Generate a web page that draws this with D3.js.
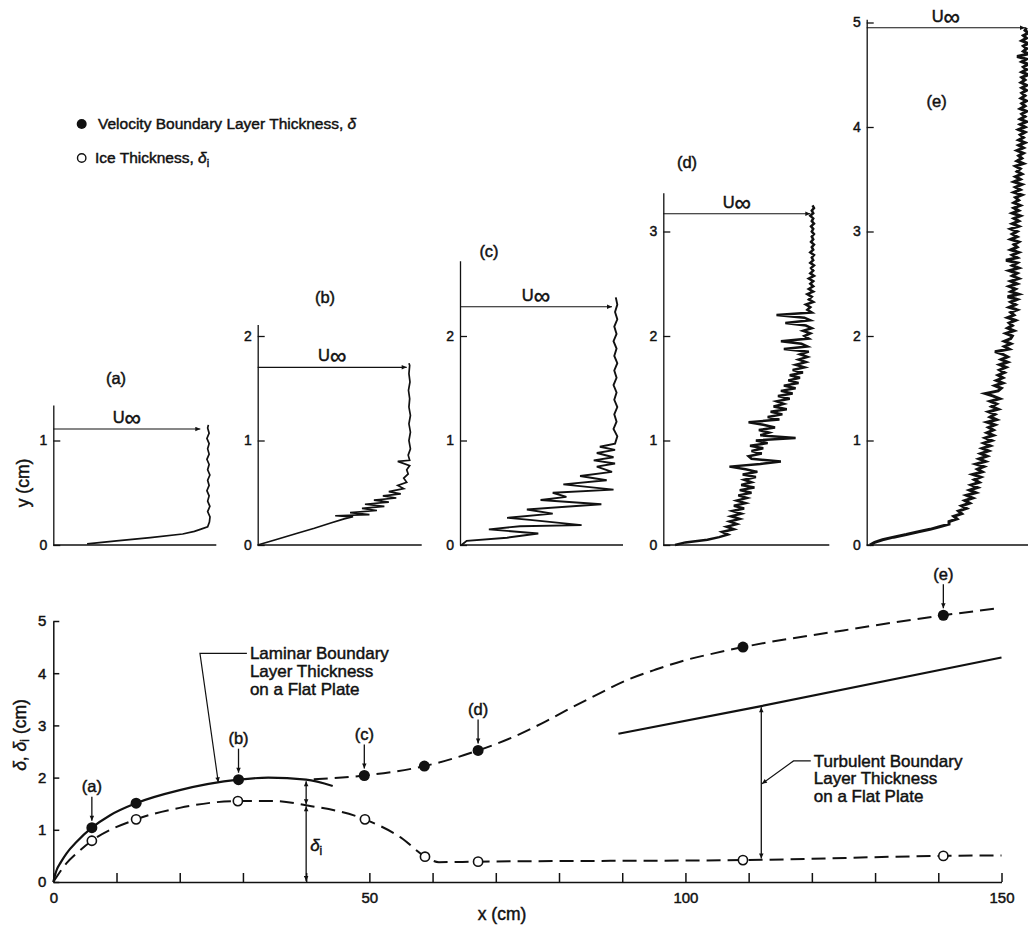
<!DOCTYPE html>
<html>
<head>
<meta charset="utf-8">
<script src="https://cdn.jsdelivr.net/npm/d3@7"></script>
<style>
  body { margin: 0; background: #fff; }
  svg { display: block; font-family: "Liberation Sans", Arial, Helvetica, sans-serif; }
  svg text { stroke: #111; stroke-width: 0.45px; }
</style>
</head>
<body>
<svg id="chart" width="1028" height="928"></svg>
<script>
// ---------- boundary-layer / ice thickness along the plate ----------
const deltaX = [6.1, 13.1, 29.3, 49.2, 58.7, 67.2, 109.1, 140.8];
const deltaY = [1.04, 1.51, 1.96, 2.04, 2.22, 2.52, 4.50, 5.11];
const iceX = [6.1, 13.1, 29.2, 49.3, 58.8, 67.2, 109.1, 140.8];
const iceY = [0.79, 1.20, 1.55, 1.20, 0.485, 0.39, 0.42, 0.50];
const stationLabels = ["(a)", "(b)", "(c)", "(d)", "(e)"];
const stationIndex = [0, 2, 3, 5, 7];

// faired curves
const deltaFairX = [41.2, 49.2, 58.7, 67.2, 72.8, 77.3, 82.3, 86.5, 90.8, 95.3, 100, 104.5, 109.1, 125, 140.8, 149.3];
const deltaFairY = [1.97, 2.04, 2.22, 2.52, 2.78, 3.04, 3.36, 3.62, 3.87, 4.07, 4.25, 4.38, 4.50, 4.82, 5.11, 5.24];
const iceFairX = [0, 2.1, 3.7, 6.1, 13.1, 20, 29.2, 35, 40, 49.3, 55, 58.8, 61, 67.2, 109.1, 140.8, 150];
const iceFairY = [0, 0.36, 0.55, 0.79, 1.20, 1.42, 1.55, 1.55, 1.47, 1.20, 0.85, 0.49, 0.38, 0.39, 0.42, 0.50, 0.51];
const laminarX = [0, 0.5, 1.2, 2.1, 3.7, 6.1, 9, 13.1, 20, 29.3, 34, 40, 44.2];
const laminarY = [0, 0.22, 0.38, 0.55, 0.77, 1.04, 1.28, 1.51, 1.76, 1.96, 2.0, 1.96, 1.84];
const turbX = [89.4, 112, 150];
const turbY = [2.84, 3.37, 4.30];

const xTicks = [0, 10, 20, 30, 40, 50, 60, 70, 80, 90, 100, 110, 120, 130, 140, 150];
const xTickLabels = [0, 50, 100, 150];
const yTicks = [0, 1, 2, 3, 4, 5];

// ---------- measured velocity profiles, [y (cm), u/U∞] ----------
const profA = [[0.01,0.23],[0.04,0.43],[0.07,0.66],[0.105,0.88],[0.13,0.96],[0.15,1.0],[0.175,1.05],[0.22,1.062],
  [0.27,1.066],[0.32,1.05],[0.37,1.065],[0.42,1.05],[0.47,1.06],[0.52,1.045],[0.57,1.06],[0.62,1.05],[0.67,1.065],
  [0.72,1.05],[0.77,1.06],[0.82,1.045],[0.87,1.06],[0.92,1.05],[0.97,1.06],[1.02,1.045],[1.07,1.06],[1.12,1.05],[1.15,1.055]];
const profB = [[0,0],[0.05,0.12],[0.11,0.26],[0.16,0.38],[0.21,0.49],[0.25,0.58],[0.27,0.64],[0.28,0.52],[0.29,0.75],
  [0.31,0.62],[0.33,0.80],[0.35,0.70],[0.37,0.85],[0.39,0.72],[0.41,0.88],[0.43,0.78],[0.45,0.93],[0.47,0.84],[0.49,0.96],
  [0.51,0.88],[0.54,0.98],[0.57,0.94],[0.60,1.0],[0.64,0.98],[0.68,1.01],[0.72,1.0],[0.76,1.02],[0.80,0.94],[0.81,1.02],
  [0.86,1.01],[0.92,1.025],[1.0,1.015],[1.08,1.025],[1.16,1.015],[1.24,1.025],[1.32,1.015],[1.40,1.02],[1.48,1.012],
  [1.56,1.022],[1.64,1.015],[1.72,1.02],[1.74,1.015]];
const profC = [[0,0.01],[0.04,0.044],[0.07,0.31],[0.11,0.515],[0.15,0.19],[0.18,0.395],[0.19,0.80],[0.24,0.46],
  [0.26,0.31],[0.30,0.61],[0.34,0.44],[0.39,0.93],[0.43,0.53],[0.46,0.70],[0.50,0.61],[0.53,1.01],[0.58,0.68],
  [0.62,0.965],[0.66,0.79],[0.70,1.0],[0.75,0.90],[0.78,1.02],[0.81,0.88],[0.84,1.01],[0.88,0.90],[0.91,1.02],
  [0.94,0.92],[0.97,1.02],[1.04,1.035],[1.11,1.01],[1.18,1.03],[1.25,1.015],[1.32,1.035],[1.39,1.015],[1.46,1.03],
  [1.53,1.01],[1.60,1.03],[1.67,1.015],[1.74,1.035],[1.81,1.015],[1.88,1.03],[1.95,1.01],[2.02,1.03],[2.09,1.015],
  [2.16,1.035],[2.23,1.02],[2.30,1.035],[2.37,1.025]];
// (d) and (e): u/U∞ sampled every 0.025 cm from the wall
const sampleStep = 0.025;
const profDu = [
  0.08,0.15,0.30,0.38,0.44,0.40,0.48,0.43,0.50,0.45,0.52,0.46,0.53,0.47,0.55,0.48,0.56,0.50,0.57,0.51,
  0.60,0.52,0.62,0.53,0.60,0.55,0.63,0.54,0.64,0.56,0.45,0.66,0.80,0.60,0.58,0.67,0.60,0.68,0.59,0.71,
  0.63,0.90,0.66,0.72,0.65,0.76,0.68,0.58,0.79,0.71,0.81,0.73,0.84,0.75,0.82,0.77,0.86,0.78,0.88,0.80,
  0.90,0.82,0.92,0.85,0.93,0.86,0.95,0.88,0.96,0.90,0.97,0.92,0.98,0.93,0.99,0.82,0.98,0.94,0.80,0.99,
  0.96,1.00,0.95,1.01,0.97,0.83,1.00,0.96,0.77,1.01,0.98,1.00,0.97,1.02,0.99,1.01,0.98,1.02,0.99,1.02,
  1.00,1.02,0.99,1.025,1.00,1.02,1.005,1.025,1.00,1.02,1.01,1.025,1.00,1.02,1.01,1.025,1.005,1.02,1.01,1.025,
  1.01,1.02,1.005,1.025,1.01,1.02,1.00,1.02,1.01,1.025,1.015];
const profEu = [
  0.02,0.05,0.10,0.17,0.25,0.32,0.40,0.46,0.52,0.52,0.57,0.55,0.60,0.58,0.63,0.60,0.65,0.62,0.67,0.63,
  0.69,0.65,0.70,0.66,0.71,0.68,0.72,0.67,0.73,0.70,0.74,0.69,0.75,0.71,0.76,0.72,0.77,0.73,0.78,0.74,
  0.79,0.75,0.80,0.76,0.80,0.77,0.81,0.76,0.82,0.78,0.81,0.77,0.83,0.79,0.82,0.78,0.84,0.80,0.75,0.83,
  0.85,0.81,0.86,0.82,0.86,0.83,0.87,0.84,0.88,0.84,0.89,0.85,0.89,0.86,0.81,0.90,0.87,0.91,0.87,0.91,
  0.92,0.88,0.93,0.89,0.92,0.90,0.94,0.89,0.93,0.91,0.95,0.90,0.94,0.91,0.95,0.89,0.96,0.91,0.94,0.90,
  0.95,0.91,0.96,0.92,0.95,0.90,0.96,0.92,0.95,0.88,0.95,0.92,0.96,0.91,0.95,0.93,0.96,0.91,0.95,0.92,
  0.95,0.91,0.96,0.92,0.96,0.93,0.97,0.92,0.96,0.93,0.97,0.93,0.96,0.94,0.98,0.93,0.97,0.94,0.98,0.93,
  0.97,0.94,0.98,0.95,0.97,0.94,0.99,0.95,0.98,0.96,0.99,0.95,0.99,0.96,1.00,0.96,0.99,0.97,1.00,0.96,
  1.00,0.97,1.01,0.97,1.00,0.98,1.01,0.97,1.00,0.98,1.01,0.975,1.00,0.98,1.01,0.98,1.01,0.975,1.00,0.98,
  1.02,0.98,1.01,0.99,1.02,0.98,1.01,0.95,1.02,0.99,1.01,0.99,1.02,0.98,1.01,0.99,1.02,1.00,1.01];
const profD = profDu.map((u, k) => [k * sampleStep, u]);
const profE = profEu.map((u, k) => [k * sampleStep, u]);

const profiles = [profA, profB, profC, profD, profE];
const uInfHeight = [1.11, 1.70, 2.28, 3.17, 4.95];
const panelTicks = [[0, 1], [0, 1, 2], [0, 1, 2], [0, 1, 2, 3], [0, 1, 2, 3, 4, 5]];
const panelTop = [1.34, 2.11, 2.72, 3.37, 5.03];

// panel layout (pixels)
const panelAxisX = [53.3, 257.7, 460, 663.3, 866.7];
const panelUWidth = [147, 149, 152, 147, 158.3];
const panelBaseLen = [163, 164, 163, 166, 175];
const panelTitleOffset = [[62.7, 1.6], [67.3, 2.37], [29, 2.81], [23.7, 3.66], [70, 4.25]];
const profileStroke = [1.7, 1.7, 1.9, 2.5, 3.0];

const ink = "#111";
const svg = d3.select("#chart");

// arrowhead marker
const defs = svg.append("defs");
defs.append("marker")
  .attr("id", "head")
  .attr("viewBox", "0 0 10 10")
  .attr("refX", 10).attr("refY", 5)
  .attr("markerUnits", "userSpaceOnUse")
  .attr("markerWidth", 8).attr("markerHeight", 5)
  .attr("orient", "auto-start-reverse")
  .append("path").attr("d", "M0,0.5 L10,5 L0,9.5 Z").attr("fill", ink);

// ================= velocity profiles =================
const yP = d3.scaleLinear().domain([0, 5]).range([545, 22.5]);

profiles.forEach((prof, i) => {
  const ax = panelAxisX[i];
  const g = svg.append("g");
  const xu = d3.scaleLinear().domain([0, 1]).range([ax, ax + panelUWidth[i]]);
  const yAx = d3.scaleLinear().domain([0, panelTop[i]]).range([yP(0), yP(panelTop[i])]);

  const axis = d3.axisLeft(yAx)
    .tickValues(panelTicks[i])
    .tickSize(-7).tickSizeOuter(0).tickPadding(6)
    .tickFormat(d3.format("d"));
  const ag = g.append("g").attr("transform", `translate(${ax},0)`).call(axis);
  ag.selectAll("path, line").attr("stroke", ink).attr("stroke-width", 1.3);
  ag.selectAll("text").attr("fill", ink).attr("font-size", 14).attr("font-family", null);

  // wall line
  g.append("line")
    .attr("x1", ax).attr("x2", ax + panelBaseLen[i])
    .attr("y1", yP(0)).attr("y2", yP(0))
    .attr("stroke", ink).attr("stroke-width", 1.5);

  // free-stream arrow
  const ya = yP(uInfHeight[i]);
  g.append("line")
    .attr("x1", xu(0)).attr("x2", xu(1))
    .attr("y1", ya).attr("y2", ya)
    .attr("stroke", ink).attr("stroke-width", 1.2)
    .attr("marker-end", "url(#head)");
  const lab = g.append("text")
    .attr("x", (xu(0) + xu(1)) / 2).attr("y", ya - 6)
    .attr("text-anchor", "middle").attr("fill", ink).attr("font-size", 16.5);
  lab.append("tspan").text("U");
  lab.append("tspan").attr("dy", 3).attr("font-size", 23).text("∞");

  // measured trace
  const line = d3.line().x(d => xu(d[1])).y(d => yP(d[0]));
  g.append("path")
    .datum(prof)
    .attr("d", line)
    .attr("fill", "none")
    .attr("stroke", ink)
    .attr("stroke-width", profileStroke[i])
    .attr("stroke-linejoin", "miter");

  // station title
  g.append("text")
    .attr("x", ax + panelTitleOffset[i][0])
    .attr("y", yP(panelTitleOffset[i][1]))
    .attr("dy", "0.35em")
    .attr("text-anchor", "middle").attr("fill", ink).attr("font-size", 16.5)
    .text(stationLabels[i]);
});

// "y (cm)"
svg.append("text")
  .attr("transform", "translate(23,483) rotate(-90)")
  .attr("text-anchor", "middle").attr("dy", "0.35em")
  .attr("fill", ink).attr("font-size", 17.5)
  .text("y (cm)");

// legend
svg.append("circle").attr("cx", 81.7).attr("cy", 124).attr("r", 5).attr("fill", ink);
const l1 = svg.append("text").attr("x", 98).attr("y", 124).attr("dy", "0.35em")
  .attr("fill", ink).attr("font-size", 15.5);
l1.append("tspan").text("Velocity Boundary Layer Thickness, ");
l1.append("tspan").attr("font-style", "italic").text("δ");
svg.append("circle").attr("cx", 81.7).attr("cy", 158).attr("r", 4.2)
  .attr("fill", "#fff").attr("stroke", ink).attr("stroke-width", 1.4);
const l2 = svg.append("text").attr("x", 95).attr("y", 158).attr("dy", "0.35em")
  .attr("fill", ink).attr("font-size", 15.5);
l2.append("tspan").text("Ice Thickness, ");
l2.append("tspan").attr("font-style", "italic").text("δ");
l2.append("tspan").attr("font-size", 11).attr("dy", 4).text("i");

// ================= thickness vs. distance =================
const x = d3.scaleLinear().domain([0, 150]).range([53.3, 1001.5]);
const y = d3.scaleLinear().domain([0, 5]).range([882, 621]);

const xAxis = d3.axisBottom(x)
  .tickValues(xTicks)
  .tickSize(-9).tickSizeOuter(0).tickPadding(10)
  .tickFormat(d => xTickLabels.includes(d) ? d : "");
const xg = svg.append("g").attr("transform", `translate(0,${y(0)})`).call(xAxis);
xg.selectAll("path, line").attr("stroke", ink).attr("stroke-width", 1.5);
xg.selectAll("text").attr("fill", ink).attr("font-size", 15).attr("font-family", null);

const yAxis = d3.axisLeft(y)
  .tickValues(yTicks)
  .tickSize(-6).tickSizeOuter(0).tickPadding(7)
  .tickFormat(d3.format("d"));
const yg = svg.append("g").attr("transform", `translate(${x(0)},0)`).call(yAxis);
yg.selectAll("path, line").attr("stroke", ink).attr("stroke-width", 1.5);
yg.selectAll("text").attr("fill", ink).attr("font-size", 15).attr("font-family", null);

// axis titles
svg.append("text").attr("x", 502).attr("y", 914).attr("dy", "0.35em")
  .attr("text-anchor", "middle").attr("fill", ink).attr("font-size", 17.5).text("x (cm)");
const yt = svg.append("text")
  .attr("transform", "translate(20,735) rotate(-90)")
  .attr("text-anchor", "middle").attr("dy", "0.35em")
  .attr("fill", ink).attr("font-size", 17.5);
yt.append("tspan").attr("font-style", "italic").text("δ");
yt.append("tspan").text(", ");
yt.append("tspan").attr("font-style", "italic").text("δ");
yt.append("tspan").attr("font-size", 12).attr("dy", 3).text("i");
yt.append("tspan").attr("dy", -3).text(" (cm)");

const smooth = d3.line().x(d => x(d[0])).y(d => y(d[1])).curve(d3.curveMonotoneX);
const zip = (a, b) => a.map((v, k) => [v, b[k]]);

// laminar flat-plate thickness (solid)
svg.append("path").datum(zip(laminarX, laminarY)).attr("d", smooth)
  .attr("fill", "none").attr("stroke", ink).attr("stroke-width", 2.2);
// turbulent flat-plate thickness (solid)
svg.append("path").datum(zip(turbX, turbY)).attr("d", smooth)
  .attr("fill", "none").attr("stroke", ink).attr("stroke-width", 2.2);
// faired boundary-layer thickness (dashed)
svg.append("path").datum(zip(deltaFairX, deltaFairY)).attr("d", smooth)
  .attr("fill", "none").attr("stroke", ink).attr("stroke-width", 2)
  .attr("stroke-dasharray", "14,7");
// faired ice thickness (dashed)
svg.append("path").datum(zip(iceFairX, iceFairY)).attr("d", smooth)
  .attr("fill", "none").attr("stroke", ink).attr("stroke-width", 2)
  .attr("stroke-dasharray", "14,7");

// measured points
svg.append("g").selectAll("circle").data(zip(deltaX, deltaY)).join("circle")
  .attr("cx", d => x(d[0])).attr("cy", d => y(d[1])).attr("r", 5.5).attr("fill", ink);
svg.append("g").selectAll("circle").data(zip(iceX, iceY)).join("circle")
  .attr("cx", d => x(d[0])).attr("cy", d => y(d[1])).attr("r", 4.6)
  .attr("fill", "#fff").attr("stroke", ink).attr("stroke-width", 1.6);

// station markers (a)-(e)
stationIndex.forEach((k, i) => {
  const px = x(deltaX[k]), py = y(deltaY[k]);
  svg.append("line").attr("x1", px).attr("x2", px)
    .attr("y1", py - 31).attr("y2", py - 7)
    .attr("stroke", ink).attr("stroke-width", 1.3).attr("marker-end", "url(#head)");
  svg.append("text").attr("x", px).attr("y", py - 41).attr("dy", "0.35em")
    .attr("text-anchor", "middle").attr("fill", ink).attr("font-size", 16.5)
    .text(stationLabels[i]);
});

function arrow(x1, y1, x2, y2, both) {
  const l = svg.append("line")
    .attr("x1", x(x1)).attr("y1", y(y1)).attr("x2", x(x2)).attr("y2", y(y2))
    .attr("stroke", ink).attr("stroke-width", 1.3)
    .attr("marker-end", "url(#head)");
  if (both) l.attr("marker-start", "url(#head)");
}

// ice thickness dimension at x = 40
arrow(40, 1.93, 40, 1.49, true);
arrow(40, 1.45, 40, 0.02, true);
const di = svg.append("text").attr("x", x(40) + 4).attr("y", y(0.71)).attr("dy", "0.35em")
  .attr("fill", ink).attr("font-size", 17);
di.append("tspan").attr("font-style", "italic").text("δ");
di.append("tspan").attr("font-size", 12).attr("dy", 4).text("i");

// turbulent-to-ice dimension at x = 112
arrow(112, 3.35, 112, 0.45, true);

// leader notes
function note(lines, tx, ty, corner, tip) {
  svg.append("path")
    .attr("d", d3.line()([[x(tx) - 3, y(ty)], [x(corner[0]), y(ty)], [x(tip[0]), y(tip[1])]]))
    .attr("fill", "none").attr("stroke", ink).attr("stroke-width", 1.2)
    .attr("marker-end", "url(#head)");
  const t = svg.append("text").attr("x", x(tx)).attr("y", y(ty))
    .attr("fill", ink).attr("font-size", 17);
  lines.forEach((s, k) => t.append("tspan").attr("x", x(tx)).attr("dy", k === 0 ? "0.35em" : 17.6).text(s));
}
note(["Laminar Boundary", "Layer Thickness", "on a Flat Plate"], 31.1, 4.38, [23.2], [26.1, 1.91]);
note(["Turbulent Boundary", "Layer Thickness", "on a Flat Plate"], 120.3, 2.32, [117.1], [112.1, 1.88]);
</script>
</body>
</html>
